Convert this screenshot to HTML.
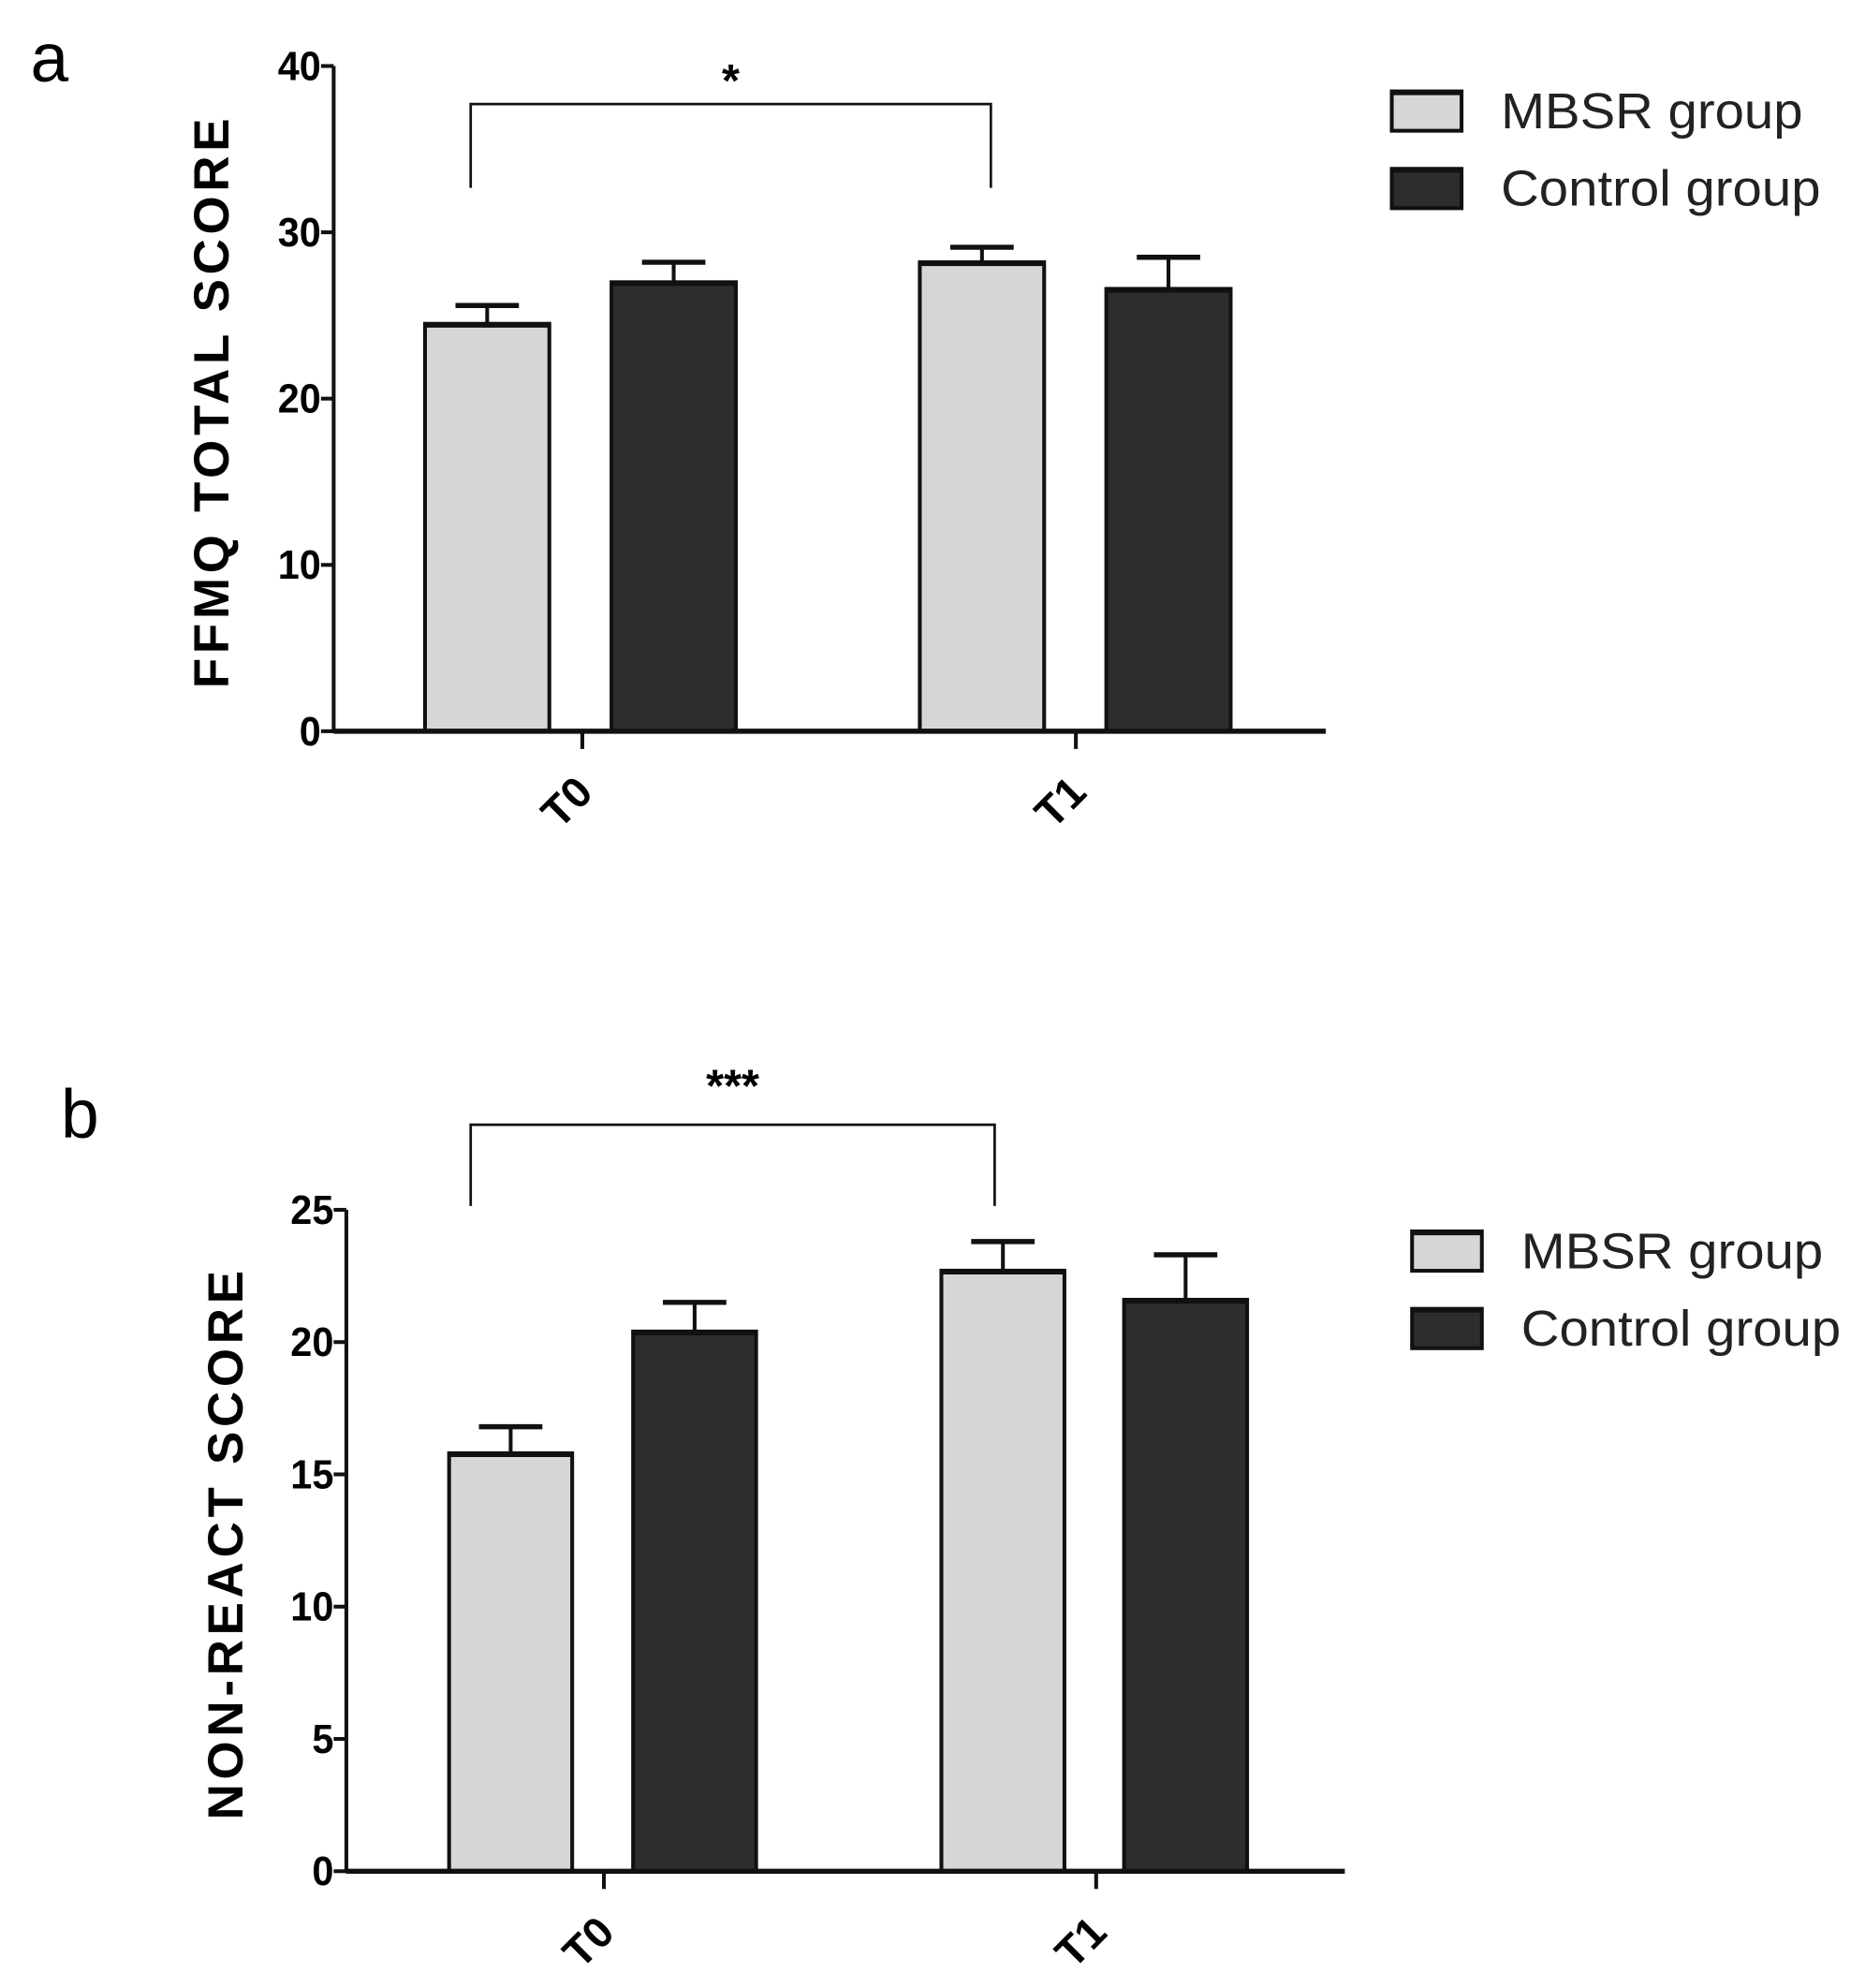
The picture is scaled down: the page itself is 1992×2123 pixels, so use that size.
<!DOCTYPE html>
<html><head><meta charset="utf-8"><style>
html,body{margin:0;padding:0;background:#fff;}
svg{display:block;}
text{font-family:"Liberation Sans",Arial,sans-serif;}
</style></head><body>
<svg id="fig" width="1992" height="2123" viewBox="0 0 1470 1566" preserveAspectRatio="none" xmlns="http://www.w3.org/2000/svg"></svg>
<script>
const categories = ["T0", "T1"];
const seriesNames = ["MBSR group", "Control group"];
const aMbsr = [24.5, 28.2];
const aMbsrErr = [25.6, 29.1];
const aControl = [27.0, 26.6];
const aControlErr = [28.2, 28.5];
const aTicks = [0, 10, 20, 30, 40];
const bMbsr = [15.8, 22.7];
const bMbsrErr = [16.8, 23.8];
const bControl = [20.4, 21.6];
const bControlErr = [21.5, 23.3];
const bTicks = [0, 5, 10, 15, 20, 25];

const NS = "http://www.w3.org/2000/svg";
const svg = document.getElementById('fig');
function mk(tag, attrs, parent, txt) {
  const e = document.createElementNS(NS, tag);
  for (const k in attrs) e.setAttribute(k, attrs[k]);
  if (txt !== undefined) e.textContent = txt;
  (parent || svg).appendChild(e);
  return e;
}

function panel(cfg) {
  const g = mk('g', {});
  
  
  const y = v => cfg.y0 - (v - cfg.min) / (cfg.max - cfg.min) * (cfg.y0 - cfg.yTop);
  const L = mk('text', {x: cfg.letterX, y: cfg.letterY, 'font-size': 54}, g, cfg.letter);
  
  
  const groups = [[cfg.mbsr, cfg.mbsrErr, '#d6d6d6', 0], [cfg.control, cfg.controlErr, '#2d2d2d', 1]];
  categories.forEach((c, i) => {
    groups.forEach(([vals, errs, fill, s]) => {
      const x0 = cfg.barX[i][s];
      const bw = cfg.barW;
      const cx = x0 + bw / 2;
      const eb = mk('line', {x1: cx, x2: cx, y1: y(vals[i]), y2: y(errs[i]), stroke: '#111', 'stroke-width': 3}, g);
      
      
      const cap = mk('line', {x1: cx - 25, x2: cx + 25, y1: y(errs[i]), y2: y(errs[i]), stroke: '#111', 'stroke-width': 4}, g);
      
      
      const r = mk('rect', {x: x0, y: y(vals[i]), width: bw, height: cfg.y0 - y(vals[i]), fill: fill, stroke: '#111', 'stroke-width': 3}, g);
      
      
      mk('line', {x1: x0, x2: x0 + bw, y1: y(vals[i]) + 1, y2: y(vals[i]) + 1, stroke: '#111', 'stroke-width': 4}, g);
    });
  });
  const ya = mk('line', {x1: cfg.axX, x2: cfg.axX, y1: cfg.yTop, y2: cfg.y0 + 1.5, stroke: '#111', 'stroke-width': 3}, g);
  
  
  const xa = mk('line', {x1: cfg.axX, x2: cfg.xEnd, y1: cfg.y0, y2: cfg.y0, stroke: '#111', 'stroke-width': 4}, g);
  
  
  cfg.ticks.forEach(t => {
    mk('line', {x1: cfg.axX - 10, x2: cfg.axX, y1: y(t), y2: y(t), stroke: '#111', 'stroke-width': 3}, g);
    const tl = mk('text', {x: cfg.axX - 10, y: y(t) + 11, 'font-size': 32, 'font-weight': 'bold', 'text-anchor': 'end', textLength: String(t).length * 17, lengthAdjust: 'spacingAndGlyphs'}, g, String(t));
    
    
  });
  categories.forEach((c, i) => {
    const tx = cfg.tickX[i];
    mk('line', {x1: tx, x2: tx, y1: cfg.y0, y2: cfg.y0 + 14, stroke: '#111', 'stroke-width': 3}, g);
    const lab = mk('text', {x: 0, y: 0, 'font-size': 34, 'font-weight': 'bold', 'text-anchor': 'end', transform: `translate(${tx + 10},${cfg.y0 + 50}) rotate(-45)`}, g, c);
    
    
  });
  const yt = mk('text', {x: 0, y: 0, 'font-size': 39, 'font-weight': 'bold', 'text-anchor': 'middle', transform: `translate(${cfg.titleX},${(cfg.yTop + cfg.y0) / 2 + 2}) rotate(-90)`, 'letter-spacing': 3.5}, g, cfg.title);
  
  
  const br = mk('path', {d: `M${cfg.brX1},${cfg.brBot} V${cfg.brY} H${cfg.brX2} V${cfg.brBot}`, fill: 'none', stroke: '#111', 'stroke-width': 2}, g);
  
  
  const st = mk('text', {x: (cfg.brX1 + cfg.brX2) / 2, y: cfg.starY, 'font-size': 36, 'font-weight': 'bold', 'text-anchor': 'middle'}, g, cfg.stars);
  
  
  const fills = ['#d6d6d6', '#2d2d2d'];
  seriesNames.forEach((n, s) => {
    const ly = cfg.legY + s * 61;
    const lg = mk('g', {}, g);
    
    
    mk('rect', {x: cfg.legX, y: ly, width: 55, height: 31, fill: fills[s], stroke: '#111', 'stroke-width': 3}, lg);
    mk('line', {x1: cfg.legX, x2: cfg.legX + 55, y1: ly + 1, y2: ly + 1, stroke: '#111', 'stroke-width': 4}, lg);
    mk('text', {x: cfg.legX + 86, y: ly + 29, 'font-size': 40, fill: '#222', textLength: s ? 252 : 238, lengthAdjust: 'spacingAndGlyphs'}, lg, n);
  });
}

panel({name: 'chart-a', letter: 'a', letterX: 24, letterY: 64, axX: 263, yTop: 52, y0: 576, xEnd: 1045, min: 0, max: 40,
  ticks: aTicks, mbsr: aMbsr, mbsrErr: aMbsrErr, control: aControl, controlErr: aControlErr,
  barX: [[335, 482], [725, 872]], barW: 98, tickX: [459, 848], titleX: 180, title: 'FFMQ TOTAL SCORE',
  brX1: 371, brX2: 781, brY: 82, brBot: 148, starY: 76, stars: '*', legX: 1097, legY: 72});
panel({name: 'chart-b', letter: 'b', letterX: 48, letterY: 896, axX: 273, yTop: 953, y0: 1474, xEnd: 1060, min: 0, max: 25,
  ticks: bTicks, mbsr: bMbsr, mbsrErr: bMbsrErr, control: bControl, controlErr: bControlErr,
  barX: [[354, 499], [742, 886]], barW: 97, tickX: [476, 864], titleX: 191, title: 'NON-REACT SCORE',
  brX1: 371, brX2: 784, brY: 886, brBot: 950, starY: 868, stars: '***', legX: 1113, legY: 970});
</script>
</body></html>
